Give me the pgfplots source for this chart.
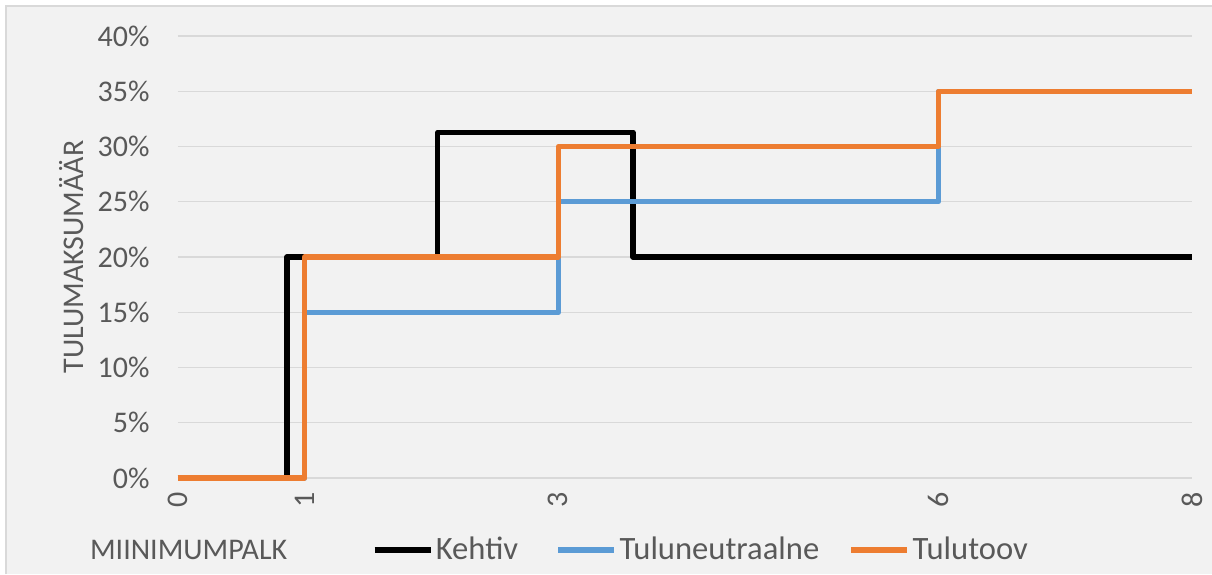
\documentclass[border=0pt]{standalone}
\usepackage{pgfplots}
\pgfplotsset{compat=1.18}
\usepackage{fontspec}
\setmainfont{Carlito}
\definecolor{txt}{HTML}{595959}
\definecolor{bg}{HTML}{F2F2F2}
\definecolor{gridc}{HTML}{D9D9D9}
\definecolor{cblue}{HTML}{5B9BD5}
\definecolor{corange}{HTML}{ED7D31}
\begin{document}
\begin{tikzpicture}
\useasboundingbox (0,0) rectangle (606pt,287pt);
\fill[white] (0,0) rectangle (606pt,287pt);
\fill[bg] (3pt,0) rectangle (606pt,284pt);
\draw[gridc, line width=1pt] (3pt,0) -- (3pt,284pt) -- (606pt,284pt);
\begin{axis}[
  at={(89pt,48pt)}, anchor=south west,
  scale only axis, width=507pt, height=221pt,
  xmin=0, xmax=8, ymin=0, ymax=40,
  xtick={0,1,3,6,8},
  ytick={0,5,...,40},
  font=\fontsize{15}{18}\selectfont,
  /pgf/number format/assume math mode=true,
  yticklabel={\pgfmathprintnumber{\tick}\%},
  xticklabel style={rotate=90, anchor=east, inner sep=0pt, inner xsep=7pt, text=txt},
  yticklabel style={anchor=east, inner sep=0pt, xshift=-14pt, text=txt},
  major tick length=0pt,
  ymajorgrids, grid style={gridc, line width=0.6pt},
  axis line style={draw=none},
  axis x line*=bottom, axis y line*=left,
  every tick/.style={draw=none},
  ylabel={TULUMAKSUMÄÄR},
  ylabel style={at={(axis description cs:-0.1046,0.5)}, rotate=0, anchor=center, text=txt},
  xlabel={MIINIMUMPALK},
  xlabel style={at={(axis description cs:-0.0937,-0.163)}, anchor=west, text=txt},
  legend style={at={(axis description cs:0.1904,-0.163)}, anchor=west, draw=none, fill=none,
    legend columns=3, text=txt, inner sep=0pt, font=\fontsize{16.3}{19}\selectfont,
    /tikz/column 2/.style={column sep=17.5pt},
    /tikz/column 4/.style={column sep=13.5pt},
    nodes={inner xsep=1pt, inner ysep=0pt}},
  legend image code/.code={\draw[#1, line width=3.2pt] (0pt,0pt) -- (28pt,0pt);},
  clip=false,
]
\draw[gridc, line width=0.6pt] (axis cs:0,0) -- (axis cs:8,0);
\addplot[black, line width=2.6pt, line join=round] coordinates {(0,0) (0.86,0) (0.86,20) (2.05,20) (2.05,31.3) (3.59,31.3) (3.59,20) (8,20)};
\addplot[cblue, line width=2.6pt, line join=round] coordinates {(0,0) (1,0) (1,15) (3,15) (3,25) (6,25) (6,35) (8,35)};
\addplot[corange, line width=2.6pt, line join=round] coordinates {(0,0) (1,0) (1,20) (3,20) (3,30) (6,30) (6,35) (8,35)};
\legend{Kehtiv, Tuluneutraalne, Tulutoov}
\end{axis}
\end{tikzpicture}
\end{document}
